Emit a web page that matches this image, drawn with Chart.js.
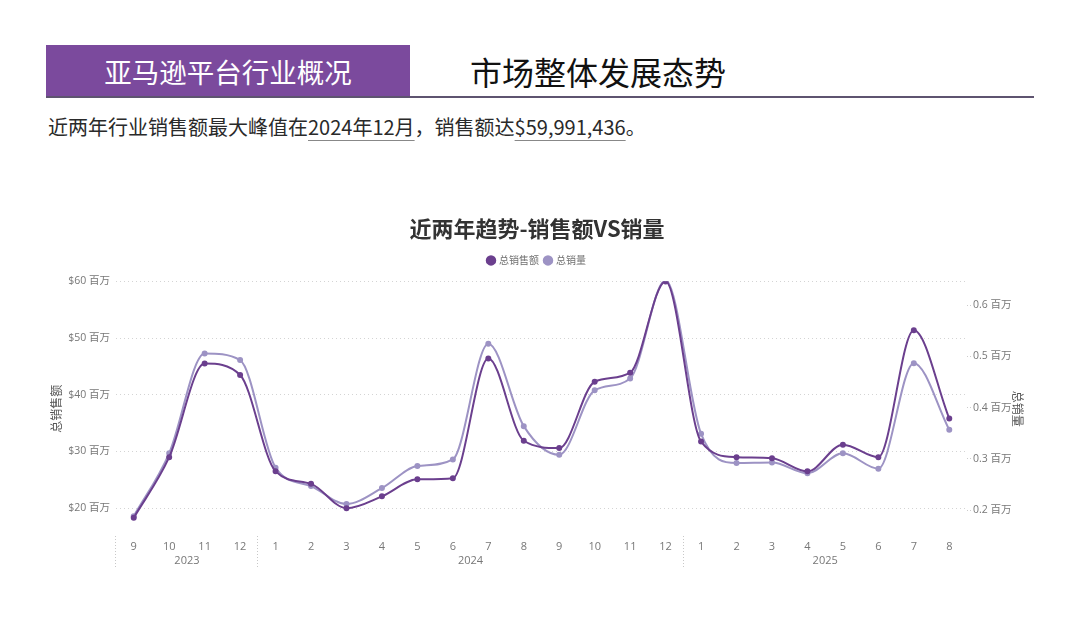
<!DOCTYPE html>
<html lang="zh-CN">
<head>
<meta charset="utf-8">
<title>近两年趋势-销售额VS销量</title>
<script src="https://cdn.jsdelivr.net/npm/chart.js@4.4.1/dist/chart.umd.min.js"></script>
<style>
  html, body { margin: 0; padding: 0; background: #fff; }
  body { width: 1080px; height: 624px; position: relative; overflow: hidden; font-family: "Noto Sans CJK SC", sans-serif; }
  .banner { position: absolute; left: 46px; top: 45px; width: 364px; height: 52px; background: #7B4A9D; color: #fff; font-size: 27.5px; line-height: 52px; text-align: center; }
  .heading { position: absolute; left: 470px; top: 45px; height: 52px; line-height: 52px; font-size: 32px; color: #111; }
  .rule { position: absolute; left: 46px; top: 96px; width: 988px; height: 2px; background: #5E5470; }
  .summary { position: absolute; left: 48px; top: 112px; font-size: 20px; line-height: 30px; color: #2a2a2a; }
  .summary u { text-decoration-color: #888; text-decoration-thickness: 1px; text-underline-offset: 5px; }
  .chart-box { position: absolute; left: 0; top: 200px; width: 1080px; height: 400px; }
</style>
</head>
<body>
<div class="banner">亚马逊平台行业概况</div>
<div class="heading">市场整体发展态势</div>
<div class="rule"></div>
<div class="summary">近两年行业销售额最大峰值在<u>2024年12月</u>，销售额达<u>$59,991,436</u>。</div>
<div class="chart-box"><canvas id="chart"></canvas></div>

<script>
  // month / year of each point
  const months = [9, 10, 11, 12, 1, 2, 3, 4, 5, 6, 7, 8, 9, 10, 11, 12, 1, 2, 3, 4, 5, 6, 7, 8];
  const years = [2023, 2023, 2023, 2023,
    2024, 2024, 2024, 2024, 2024, 2024, 2024, 2024, 2024, 2024, 2024, 2024,
    2025, 2025, 2025, 2025, 2025, 2025, 2025, 2025];

  // 总销售额 ($)
  const salesTotal = [18300000, 29000000, 45500000, 43500000, 26500000, 24300000, 20000000, 22100000,
    25100000, 25300000, 46400000, 31900000, 30600000, 42300000, 43900000, 59991436,
    31750000, 29000000, 28800000, 26500000, 31200000, 29000000, 51400000, 35800000];

  // 总销量
  const volumeTotal = [188000, 311000, 506000, 493000, 283000, 247000, 212000, 243000,
    286000, 299000, 525000, 364000, 308000, 434000, 457000, 649000,
    349000, 292000, 293000, 272000, 311000, 281000, 487000, 357000];

  const salesTicks = [20000000, 30000000, 40000000, 50000000, 60000000];
  const volumeTicks = [200000, 300000, 400000, 500000, 600000];

  const darkPurple = "#6B3F8E";
  const lightPurple = "#9D93C4";
  const axisGray = "#777";
  const fontFamily = '"Open Sans", "Noto Sans CJK SC", sans-serif';
  const cjkFont = '"Noto Sans CJK SC", sans-serif';

  // group the months by year for the second axis row
  const yearGroups = [];
  years.forEach((y, i) => {
    const last = yearGroups[yearGroups.length - 1];
    if (last && last.year === y) last.end = i;
    else yearGroups.push({ year: y, start: i, end: i });
  });
  const yearCenters = yearGroups.map((g) => (g.start + g.end) / 2);
  const yearEdges = [0].concat(yearGroups.map((g) => g.end + 1));

  Chart.defaults.font.family = fontFamily;

  // a bit of room between legend and plot
  const legendGap = {
    id: "legendGap",
    beforeInit(chart) {
      const fit = chart.legend.fit;
      chart.legend.fit = function () {
        fit.call(this);
        this.height += 6;
      };
    }
  };

  new Chart(document.getElementById("chart"), {
    type: "line",
    data: {
      labels: months.map(String),
      datasets: [
        {
          label: "总销售额",
          data: salesTotal,
          yAxisID: "y",
          xAxisID: "x",
          borderColor: darkPurple,
          backgroundColor: darkPurple,
          pointBackgroundColor: darkPurple,
          borderWidth: 2,
          pointRadius: 2,
          cubicInterpolationMode: "monotone"
        },
        {
          label: "总销量",
          data: volumeTotal,
          yAxisID: "y1",
          xAxisID: "x",
          borderColor: lightPurple,
          backgroundColor: lightPurple,
          pointBackgroundColor: lightPurple,
          borderWidth: 2,
          pointRadius: 2,
          cubicInterpolationMode: "monotone"
        }
      ]
    },
    plugins: [legendGap],
    options: {
      responsive: true,
      maintainAspectRatio: false,
      animation: false,
      layout: { padding: { left: 45, right: 51, top: 0, bottom: 22 } },
      plugins: {
        title: {
          display: true,
          text: "近两年趋势-销售额VS销量",
          color: "#333",
          font: { size: 22, weight: "bold", family: cjkFont },
          padding: { top: 15, bottom: 8 }
        },
        legend: {
          labels: {
            usePointStyle: true,
            pointStyle: "circle",
            boxWidth: 6,
            boxHeight: 6,
            padding: 6,
            color: "#707070",
            font: { size: 10, family: cjkFont }
          }
        },
        tooltip: { enabled: false }
      },
      scales: {
        x: {
          type: "category",
          position: "bottom",
          offset: true,
          grid: {
            offset: true,
            drawOnChartArea: false,
            drawTicks: true,
            tickLength: 33,
            color: "rgba(0,0,0,0)",
            tickColor: (ctx) => (yearEdges.includes(ctx.index) ? "#c8c8c8" : "rgba(0,0,0,0)"),
            tickBorderDash: [1, 2]
          },
          border: { display: false },
          ticks: { color: axisGray, font: { size: 11 }, padding: -29, maxRotation: 0, autoSkip: false },
          afterFit: (s) => { s.height = 18; }
        },
        x2: {
          type: "linear",
          position: "bottom",
          min: -0.5,
          max: months.length - 0.5,
          grid: { display: false, drawTicks: false },
          border: { display: false },
          afterBuildTicks: (s) => { s.ticks = yearCenters.map((v) => ({ value: v })); },
          ticks: {
            color: axisGray,
            font: { size: 11 },
            padding: 0,
            autoSkip: false,
            callback: (v) => {
              const g = yearGroups.find((gr) => (gr.start + gr.end) / 2 === v);
              return g ? String(g.year) : "";
            }
          },
          afterFit: (s) => { s.height = 24; }
        },
        y: {
          type: "linear",
          position: "left",
          min: 15100000,
          max: 60000000,
          afterBuildTicks: (s) => { s.ticks = salesTicks.map((v) => ({ value: v })); },
          grid: { color: "#d4d4d4", drawTicks: false, borderDash: [1, 3] },
          border: { display: false, dash: [1, 3] },
          ticks: {
            color: axisGray,
            font: { size: 10.5 },
            padding: 6,
            callback: (v) => "$" + v / 1000000 + " 百万"
          },
          title: { display: true, text: "总销售额", color: "#555", font: { size: 12, family: cjkFont } },
          afterFit: (s) => { s.width = 71; }
        },
        y1: {
          type: "linear",
          position: "right",
          min: 149500,
          max: 646600,
          afterBuildTicks: (s) => { s.ticks = volumeTicks.map((v) => ({ value: v })); },
          grid: {
            drawOnChartArea: false,
            drawTicks: true,
            tickLength: 5,
            tickColor: "#cccccc",
            tickBorderDash: [1, 2]
          },
          border: { display: false },
          ticks: {
            color: axisGray,
            font: { size: 10.5 },
            padding: 1,
            callback: (v) => v / 1000000 + " 百万"
          },
          title: { display: true, text: "总销量", color: "#555", font: { size: 12, family: cjkFont } },
          afterFit: (s) => { s.width = 62; }
        }
      }
    }
  });
</script>
</body>
</html>
